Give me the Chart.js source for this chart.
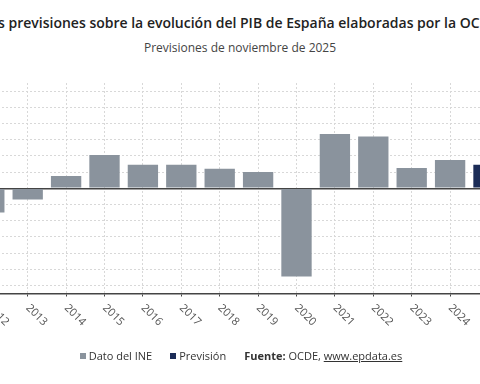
<!DOCTYPE html>
<html>
<head>
<meta charset="utf-8">
<script src="https://cdn.jsdelivr.net/npm/chart.js@4.4.1/dist/chart.umd.min.js"></script>
<style>
html,body{margin:0;padding:0;width:480px;height:384px;overflow:hidden;background:#fff;font-family:"Open Sans",sans-serif;}
#wrap{position:absolute;left:-31px;top:0;width:542px;height:384px;}
#title{position:absolute;left:-260px;width:1000px;top:14px;text-align:center;white-space:nowrap;font-size:14px;line-height:18px;font-weight:600;color:#222;}
#subtitle{position:absolute;left:-260px;width:1000px;top:40px;text-align:center;white-space:nowrap;font-size:12px;line-height:16px;color:#444;}
#legend{position:absolute;left:0;width:482px;top:348px;text-align:center;white-space:nowrap;font-size:11px;line-height:16px;color:#333;}
#legend .sq{display:inline-block;width:6px;height:6px;margin-right:3px;vertical-align:1px;}
#legend .it{margin-right:18px;}
#legend b{font-weight:700;}
#legend u{text-decoration:underline;}
</style>
</head>
<body>
<div id="title">Las previsiones sobre la evolución del PIB de España elaboradas por la OCDE</div>
<div id="subtitle">Previsiones de noviembre de 2025</div>
<div id="wrap"><canvas id="c" width="542" height="384"></canvas></div>
<div id="legend"><span class="it"><span class="sq" style="background:#8a939d"></span>Dato del INE</span><span class="it"><span class="sq" style="background:#1b2c57"></span>Previsión</span><span><b>Fuente:</b> OCDE, <u>www.epdata.es</u></span></div>
<script>
const years = ['2012','2013','2014','2015','2016','2017','2018','2019','2020','2021','2022','2023','2024','2025'];
const datoINE = [-3.0,-1.4,1.5,4.1,2.9,2.9,2.4,2.0,-10.9,6.7,6.4,2.5,3.5,null];
const prevision = [null,null,null,null,null,null,null,null,null,null,null,null,null,2.9];
const yMin = -13, yMax = 13, yGridStep = 2;

class DiagCategoryScale extends Chart.CategoryScale {
  _getXAxisLabelAlignment() { return 'left'; }
}
DiagCategoryScale.id = 'diagcategory';
DiagCategoryScale.defaults = Chart.CategoryScale.defaults;
Chart.register(DiagCategoryScale);

const GRID = '#d8d8d8', AXIS = '#444';
const FONT = 'Open Sans';

new Chart(document.getElementById('c'), {
  type: 'bar',
  data: {
    labels: years,
    datasets: [
      {label: 'Dato del INE', data: datoINE, backgroundColor: '#8a939d', grouped: false, categoryPercentage: 1, barPercentage: 0.79},
      {label: 'Previsión', data: prevision, backgroundColor: '#1b2c57', grouped: false, categoryPercentage: 1, barPercentage: 0.79}
    ]
  },
  options: {
    responsive: false,
    animation: false,
    events: [],
    layout: {padding: {left: 1.1, right: 3.3, top: 83, bottom: 40.5}},
    plugins: {legend: {display: false}, title: {display: false}, tooltip: {enabled: false}},
    scales: {
      x: {
        type: 'diagcategory',
        offset: true,
        grid: {offset: false, color: GRID, lineWidth: 1, drawTicks: true, tickLength: 3, tickColor: AXIS, tickWidth: 1},
        border: {display: true, color: AXIS, width: 1.5, dash: (c) => (c.tick ? [2,2] : [])},
        ticks: {autoSkip: false, minRotation: -45, maxRotation: -45, padding: 5, color: '#555', font: {family: FONT, size: 11}},
        afterFit(s) { s.height = 50; s.paddingLeft = 0; s.paddingRight = 0; }
      },
      y: {
        min: yMin, max: yMax,
        ticks: {display: false, stepSize: 1},
        grid: {
          drawTicks: false,
          color: (c) => (c.tick && c.tick.value === 0 ? AXIS : GRID),
          lineWidth: (c) => (c.tick && c.tick.value === 0 ? 1.5 : 1)
        },
        border: {display: false, dash: (c) => (c.tick && c.tick.value === 0 ? [] : [2,2])},
        afterBuildTicks(s) { s.ticks = s.ticks.filter(t => Math.abs(t.value) < yMax && t.value % yGridStep === 0); },
        afterFit(s) { s.width = 0; s.paddingTop = 0; s.paddingBottom = 0; }
      }
    }
  }
});
</script>
</body>
</html>
